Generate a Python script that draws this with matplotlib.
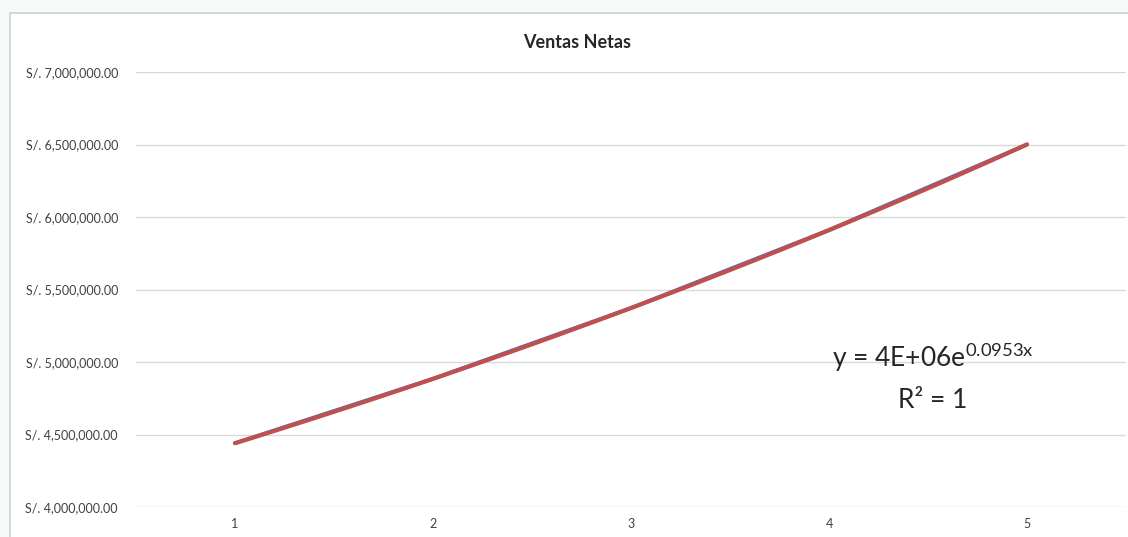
import matplotlib
import matplotlib.pyplot as plt
import numpy as np
from matplotlib.patches import Rectangle
from matplotlib.ticker import FuncFormatter

matplotlib.use('Agg')

periods = [1, 2, 3, 4, 5]
ventas = [4440000, 4884000, 5372000, 5910000, 6500000]
y_ticks = [4000000, 4500000, 5000000, 5500000, 6000000, 6500000, 7000000]

FONT = ['Lato', 'DejaVu Sans']
plt.rcParams['font.family'] = FONT


def soles(v, _pos=None):
    return f'S/. {v:,.2f}'


def main():
    fig = plt.figure(figsize=(11.28, 5.37), dpi=100, facecolor='#f7fafb')
    # chart area border
    fig.patches.append(Rectangle((10 / 1128, -0.1), 1.2, (537 - 13) / 537 + 0.1,
                                 transform=fig.transFigure, facecolor='white',
                                 edgecolor='#d0d0d0', linewidth=1.2, zorder=-10))

    ax = fig.add_axes([136 / 1128, 30 / 537, 990 / 1128, 435 / 537])
    ax.set_facecolor('none')
    ax.set_zorder(1)

    x = np.arange(len(periods))
    ax.plot(x, ventas, color='#4472C4', linewidth=2.8, solid_capstyle='round', zorder=3)

    # exponential trendline fitted to the series
    b, log_a = np.polyfit(periods, np.log(ventas), 1)
    xs = np.linspace(periods[0], periods[-1], 100)
    ax.plot(xs - 1, np.exp(log_a) * np.exp(b * xs), color='#C0504D', linewidth=3,
            solid_capstyle='round', zorder=4)

    ax.set_xlim(-0.5, len(periods) - 0.5)
    ax.set_ylim(y_ticks[0], y_ticks[-1])
    ax.set_xticks(x, [str(p) for p in periods])
    ax.set_yticks(y_ticks)
    ax.yaxis.set_major_formatter(FuncFormatter(soles))
    ax.tick_params(length=0, labelsize=9, labelcolor='#404040')
    ax.tick_params(axis='y', pad=13)
    ax.tick_params(axis='x', pad=8)
    ax.grid(axis='y', color='#d9d9d9', linewidth=1)
    ax.set_axisbelow(True)
    for s in ax.spines.values():
        s.set_visible(False)

    fig.text(577 / 1128, 1 - 42 / 537, 'Ventas Netas', ha='center', va='center',
             fontsize=13, fontweight='bold', color='#262626')

    ax.text(0.805, 0.345, r'y = 4E+06e$^{\mathregular{0.0953x}}$', transform=ax.transAxes,
            ha='center', va='center', fontsize=19, color='#262626')
    ax.text(0.805, 0.245, 'R² = 1', transform=ax.transAxes,
            ha='center', va='center', fontsize=19, color='#262626')

    plt.savefig('out.png', dpi=100, facecolor=fig.get_facecolor())


if __name__ == "__main__":
    main()
